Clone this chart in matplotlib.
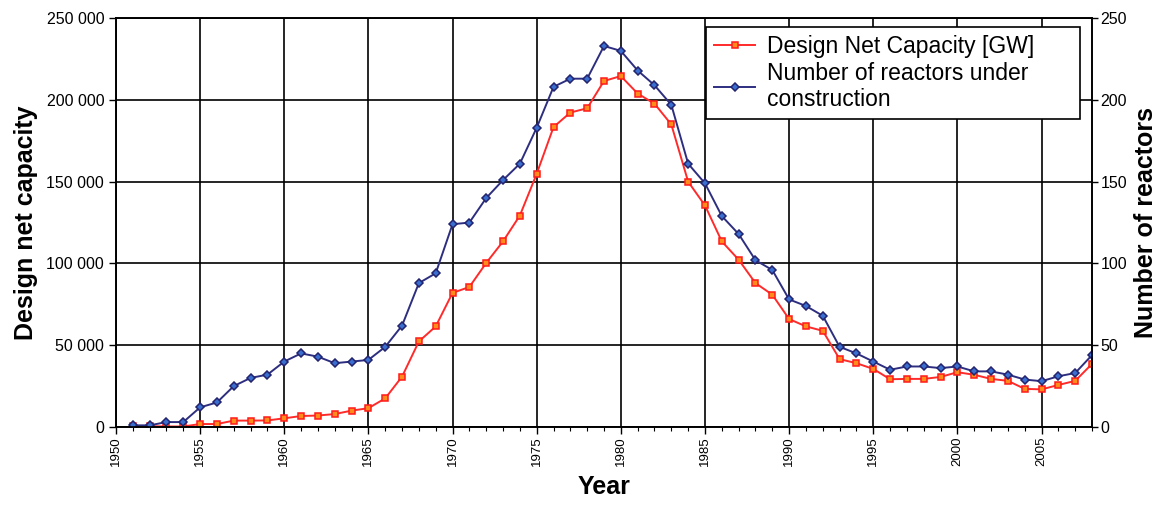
import numpy as np
import matplotlib
matplotlib.use("Agg")
import matplotlib.pyplot as plt
from matplotlib.ticker import FuncFormatter, MultipleLocator

plt.rcParams['font.family'] = ['Liberation Sans', 'DejaVu Sans']

# data
years = list(range(1951, 2009))
capacity = [500, 500, 300, 300, 1800, 1800, 3900, 3900, 4000, 5300,
            6700, 7000, 7900, 10000, 11500, 17500, 30800, 52300, 61500, 82000,
            85600, 100300, 113500, 129300, 154800, 183400, 192300, 194900, 211600, 214600,
            203900, 197700, 185000, 150000, 135500, 113500, 102300, 88000, 80900, 66000,
            61500, 58800, 41500, 39000, 35500, 29200, 29400, 29400, 30600, 33500,
            31900, 29400, 28200, 23300, 23000, 25700, 28200, 38600]
reactors = [1, 1, 3, 3, 12, 15, 25, 30, 32, 40,
            45, 43, 39, 40, 41, 49, 62, 88, 94, 124,
            125, 140, 151, 161, 183, 208, 213, 213, 233, 230,
            218, 209, 197, 161, 149, 129, 118, 102, 96, 78,
            74, 68, 49, 45, 40, 35, 37, 37, 36, 37,
            34, 34, 32, 29, 28, 31, 33, 44]

fig = plt.figure(figsize=(11.63, 5.05), dpi=100)
ax = fig.add_axes([0.0997, 0.1545, 0.8393, 0.8095])
ax2 = ax.twinx()

l1, = ax.plot(years, capacity, color='#ff2a2a', lw=1.4, marker='s', ms=4.3,
              mfc='#ff8c1a', mec='#ff1a1a', mew=1.1, label='Design Net Capacity [GW]')
l2, = ax2.plot(years, reactors, color='#2e2e80', lw=1.4, marker='D', ms=4.3,
               mfc='#3a6fd0', mec='#23236e', mew=1.1,
               label='Number of reactors under\nconstruction')

ax.set_xlim(1950, 2008)
ax.set_ylim(0, 250000)
ax2.set_ylim(0, 250)

ax.xaxis.set_major_locator(MultipleLocator(5))
ax.xaxis.set_minor_locator(MultipleLocator(1))
ax.yaxis.set_major_locator(MultipleLocator(50000))
ax2.yaxis.set_major_locator(MultipleLocator(50))
ax.yaxis.set_major_formatter(FuncFormatter(lambda v, p: f"{int(v):,}".replace(',', ' ')))

ax.grid(True, which='major', color='black', lw=1.2)
ax.set_axisbelow(True)

ax.tick_params(axis='x', which='major', direction='out', length=5, width=1,
               labelsize=9.5, labelrotation=90, pad=2)
ax.tick_params(axis='x', which='minor', direction='out', length=3, width=0.8)
ax.tick_params(axis='y', direction='out', length=5, width=1, labelsize=11.5)
ax2.tick_params(axis='y', direction='out', length=4, width=1, labelsize=11.5, pad=2)

for a in (ax, ax2):
    for s in a.spines.values():
        s.set_linewidth(1.2)

ax.set_xlabel('Year', fontsize=18, fontweight='bold', labelpad=6)
ax.set_ylabel('Design net capacity', fontsize=18, fontweight='bold', labelpad=6)
ax2.set_ylabel('Number of reactors', fontsize=18, fontweight='bold', labelpad=5)

leg = ax2.legend([l1, l2], [l1.get_label(), l2.get_label()], loc='upper right',
                 bbox_to_anchor=(0.6045, 0, 0.383, 0.978), mode='expand',
                 borderaxespad=0, fontsize=16.5,
                 frameon=True, fancybox=False, edgecolor='black', framealpha=1,
                 handlelength=1.8, handletextpad=0.5, borderpad=0.35,
                 labelspacing=0.15)
leg.get_frame().set_linewidth(1.2)

fig.savefig('out.png', dpi=100)
